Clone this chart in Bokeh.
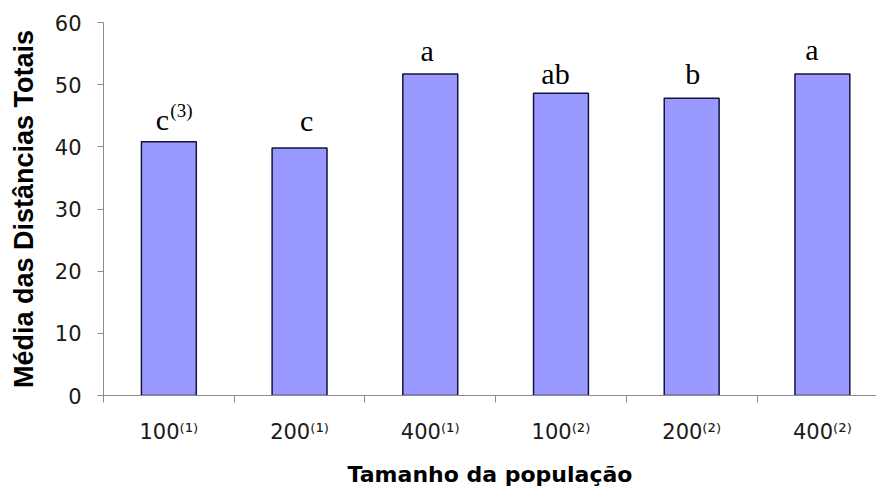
from bokeh.plotting import figure
from bokeh.models import Range1d, FixedTicker, CustomJSTickFormatter, LinearAxis
from bokeh.core.properties import value
from bokeh.embed import file_html
from bokeh.resources import INLINE

# Population sizes and the group marker shown as a superscript
sizes = ["100", "200", "400", "100", "200", "400"]
groups = ["⁽¹⁾", "⁽¹⁾", "⁽¹⁾", "⁽²⁾", "⁽²⁾", "⁽²⁾"]
# Mean of total distances per population
means = [40.8, 39.8, 51.7, 48.6, 47.8, 51.7]
# Significance letters and footnote marker
letters = ["c", "c", "a", "ab", "b", "a"]
letter_notes = ["(3)", "", "", "", "", ""]
y_ticks = [0, 10, 20, 30, 40, 50, 60]

xs = [i + 0.5 for i in range(len(means))]
tick_labels = [s + g for s, g in zip(sizes, groups)]

# horizontal pixel nudges / vertical gaps for the letters above bars
letter_dx = [-6.5, 7, -3, -5.5, 1, -10.5]
letter_dy = [22, 28, 24, 20, 25, 25]

SANS = "DejaVu Sans"
SERIF = "Liberation Serif"
AXIS_GREY = "#8c8c8c"
TEXT = "#1a1a1a"

p = figure(
    width=876, height=489,
    output_backend="svg", toolbar_location=None,
    x_range=Range1d(0, 5.914), y_range=Range1d(0, 60),
    min_border_left=103, min_border_right=0,
    min_border_top=22, min_border_bottom=10,
    background_fill_color="white", border_fill_color="white",
)
p.outline_line_color = None
p.xgrid.grid_line_color = None
p.ygrid.grid_line_color = None

p.vbar(x=xs, top=means, width=0.42,
       fill_color="#9999ff", line_color="#14143c", line_width=1.5)

# y axis
yax = p.yaxis[0]
yax.ticker = FixedTicker(ticks=y_ticks)
yax.minor_tick_line_color = None
yax.major_tick_in = 0
yax.major_tick_out = 6
yax.axis_line_color = AXIS_GREY
yax.major_tick_line_color = AXIS_GREY
yax.major_label_text_font = SANS
yax.major_label_text_font_size = "21px"
yax.major_label_text_color = TEXT
yax.major_label_standoff = 16
yax.axis_label = "Média das Distâncias Totais"
yax.axis_label_text_font = "Liberation Sans"
yax.axis_label_text_font_style = "bold"
yax.axis_label_text_font_size = "27px"
yax.axis_label_text_color = "black"
yax.axis_label_standoff = 13

# x axis line with ticks between the categories
xax = p.xaxis[0]
xax.ticker = FixedTicker(ticks=[0, 1, 2, 3, 4, 5])
xax.formatter = CustomJSTickFormatter(code="return ''")
xax.minor_tick_line_color = None
xax.major_tick_in = 0
xax.major_tick_out = 7
xax.major_label_standoff = 0
xax.axis_line_color = AXIS_GREY
xax.major_tick_line_color = AXIS_GREY

# category labels and axis title, centred on each bar
cax = LinearAxis(
    ticker=FixedTicker(ticks=xs),
    formatter=CustomJSTickFormatter(args=dict(labels=tick_labels),
                                    code="return labels[Math.floor(tick)]"),
    axis_line_color=None, major_tick_line_color=None, minor_tick_line_color=None,
    major_tick_in=0, major_tick_out=0, major_label_standoff=17,
    major_label_text_font=SANS, major_label_text_font_size="21px",
    major_label_text_color=TEXT,
    axis_label="Tamanho da população",
    axis_label_text_font=SANS, axis_label_text_font_style="bold",
    axis_label_text_font_size="22px", axis_label_text_color="black",
    axis_label_standoff=15,
)
p.add_layout(cax, "below")

# significance letters above the bars
p.text(x=xs, y=means, text=letters, x_offset=letter_dx,
       y_offset=[-d for d in letter_dy],
       text_align="center", text_baseline="alphabetic",
       text_font=value(SERIF), text_font_size="30px", text_color="black")
note_x = [x for x, n in zip(xs, letter_notes) if n]
note_y = [m for m, n in zip(means, letter_notes) if n]
note_dy = [-(d + 9.5) for d, n in zip(letter_dy, letter_notes) if n]
p.text(x=note_x, y=note_y, text=[n for n in letter_notes if n],
       x_offset=1.5, y_offset=note_dy,
       text_align="left", text_baseline="alphabetic",
       text_font=value(SERIF), text_font_size="19px", text_color="black")

open("out.html", "w").write(file_html(p, INLINE))
